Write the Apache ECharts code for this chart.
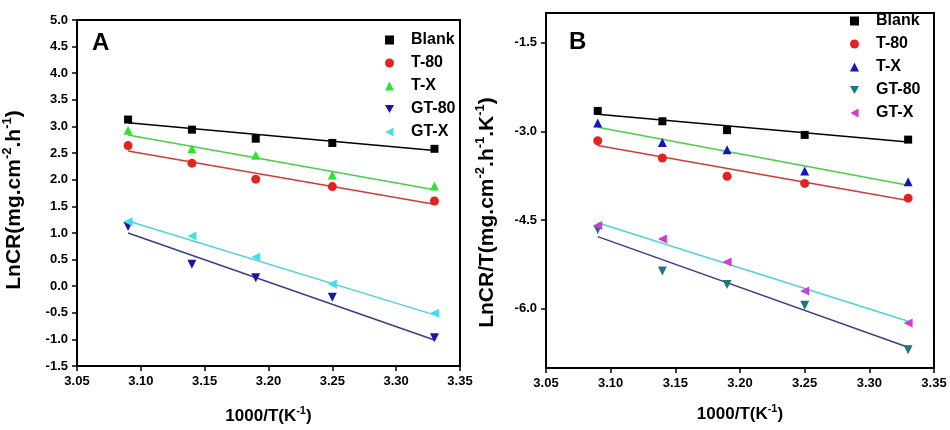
<!DOCTYPE html>
<html>
<head>
<meta charset="utf-8">
<script src="https://cdn.jsdelivr.net/npm/echarts@6/dist/echarts.min.js"></script>
<style>html,body{margin:0;padding:0;background:#fff}#c{width:950px;height:430px}</style>
</head>
<body>
<div id="c"></div>
<script>
// ---- data ----
const xVals = [3.09, 3.14, 3.19, 3.25, 3.33];
const fitX = [3.09, 3.33];
const legendNames = ['Blank', 'T-80', 'T-X', 'GT-80', 'GT-X'];
const xTicks = [3.05, 3.10, 3.15, 3.20, 3.25, 3.30, 3.35];
const yTicksA = [-1.5, -1.0, -0.5, 0.0, 0.5, 1.0, 1.5, 2.0, 2.5, 3.0, 3.5, 4.0, 4.5, 5.0];
const yTicksB = [-1.5, -3.0, -4.5, -6.0];

// Panel A: LnCR
const blankA = [3.13, 2.94, 2.77, 2.69, 2.58];
const t80A   = [2.64, 2.31, 2.01, 1.87, 1.60];
const tXA    = [2.93, 2.58, 2.46, 2.09, 1.88];
const gt80A  = [1.12, 0.41, 0.16, -0.21, -0.97];
const gtXA   = [1.21, 0.94, 0.55, 0.04, -0.51];
// fitted line end values (at fitX)
const blankFitA = [3.07, 2.55];
const t80FitA   = [2.54, 1.54];
const tXFitA    = [2.84, 1.81];
const gt80FitA  = [1.00, -1.01];
const gtXFitA   = [1.225, -0.54];

// Panel B: LnCR/T
const blankB = [-2.655, -2.83, -2.98, -3.06, -3.14];
const t80B   = [-3.16, -3.45, -3.76, -3.88, -4.13];
const tXB    = [-2.86, -3.19, -3.31, -3.67, -3.85];
const gt80B  = [-4.66, -5.36, -5.59, -5.94, -6.69];
const gtXB   = [-4.59, -4.82, -5.21, -5.70, -6.24];
const blankFitB = [-2.71, -3.18];
const t80FitB   = [-3.24, -4.17];
const tXFitB    = [-2.93, -3.91];
const gt80FitB  = [-4.78, -6.65];
const gtXFitB   = [-4.545, -6.21];

// ---- styles ----
const FONT = '"Liberation Sans", Arial, sans-serif';
const symDown = 'path://M0,0L10,0L5,9Z';
const symLeft = 'path://M0,5L9,0L9,10Z';
const symbols = ['rect', 'circle', 'triangle', symDown, symLeft];
const symSizes = [8, 9, 9, 9, 9];
const markColorsA = ['#000000', '#e32222', '#2fe22f', '#1717a3', '#3fe0ee'];
const markColorsB = ['#000000', '#e32222', '#1515b8', '#1d7878', '#d23ad2'];
const fitColors = ['#000000', '#d23a3a', '#45d045', '#3d3d8a', '#4fd4d4'];

const zip = (xs, ys) => xs.map((x, i) => [x, ys[i]]);

function panelSeries(prefix, gi, pts, fits, colors) {
  const out = [];
  for (let k = 0; k < 5; k++) {
    out.push({
      type: 'line', name: prefix + 'fit' + k, xAxisIndex: gi, yAxisIndex: gi,
      data: zip(fitX, fits[k]), showSymbol: false, silent: true, z: 2,
      lineStyle: { color: fitColors[k], width: 1.5 }
    });
  }
  for (let k = 0; k < 5; k++) {
    out.push({
      type: 'scatter', name: prefix + legendNames[k], xAxisIndex: gi, yAxisIndex: gi,
      data: zip(xVals, pts[k]), symbol: symbols[k], symbolSize: symSizes[k], z: 5,
      itemStyle: { color: colors[k], opacity: 1 }
    });
  }
  return out;
}

function xAxisCfg(gi, gap) {
  return {
    type: 'value', gridIndex: gi, min: xTicks[0], max: xTicks[xTicks.length - 1], interval: 0.05,
    name: '{n|1000/T(K}{s|-1}{n|)}', nameLocation: 'middle', nameGap: gap,
    nameTextStyle: { rich: {
      n: { fontSize: 17, fontWeight: 'bold', fontFamily: FONT, color: '#000', lineHeight: 22 },
      s: { fontSize: 11, fontWeight: 'bold', fontFamily: FONT, color: '#000', verticalAlign: 'top', lineHeight: 11 }
    } },
    axisLine: { onZero: false, lineStyle: { color: '#000', width: 2 } },
    axisTick: { inside: false, length: 5, lineStyle: { color: '#000', width: 1.5 } },
    axisLabel: { color: '#000', fontSize: 13, fontWeight: 'bold', fontFamily: FONT, margin: 9,
      formatter: v => v.toFixed(2) },
    splitLine: { show: false }
  };
}

const richY = {
  n: { fontSize: 21, fontWeight: 'bold', fontFamily: FONT, color: '#000', lineHeight: 26 },
  s: { fontSize: 13, fontWeight: 'bold', fontFamily: FONT, color: '#000', verticalAlign: 'top', lineHeight: 13 }
};

function legendCfg(prefix, left, top) {
  return {
    orient: 'vertical', left: left, top: top, itemWidth: 9, itemHeight: 9, itemGap: 7,
    data: legendNames.map((n, k) => ({ name: prefix + n, icon: symbols[k] })),
    formatter: name => name.slice(prefix.length),
    textStyle: { color: '#000', fontSize: 16, fontWeight: 'bold', fontFamily: FONT, lineHeight: 16, padding: [0, 0, 0, 12] },
    selectedMode: false
  };
}

const option = {
  animation: false,
  backgroundColor: '#ffffff',
  grid: [
    { left: 72, right: 490, top: 20, bottom: 64, show: true, borderColor: '#000', borderWidth: 2, backgroundColor: 'transparent' },
    { left: 546, right: 16, top: 13, bottom: 62, show: true, borderColor: '#000', borderWidth: 2, backgroundColor: 'transparent' }
  ],
  xAxis: [xAxisCfg(0, 39), xAxisCfg(1, 35)],
  yAxis: [
    {
      type: 'value', gridIndex: 0, min: yTicksA[0], max: yTicksA[yTicksA.length - 1], interval: 0.5,
      name: '{n|LnCR(mg.cm}{s|-2}{n|.h}{s|-1}{n|)}', nameLocation: 'middle', nameGap: 50,
      nameTextStyle: { rich: richY, padding: [0, 14, 0, 0] },
      axisLine: { onZero: false, lineStyle: { color: '#000', width: 2 } },
      axisTick: { inside: false, length: 5, lineStyle: { color: '#000', width: 1.5 } },
      axisLabel: { color: '#000', fontSize: 13, fontWeight: 'bold', fontFamily: FONT, margin: 9,
        formatter: v => v.toFixed(1) },
      splitLine: { show: false }
    },
    {
      type: 'value', gridIndex: 1, min: -7, max: -1,
      name: '{n|LnCR/T(mg.cm}{s|-2}{n|.h}{s|-1}{n|.K}{s|-1}{n|)}', nameLocation: 'middle', nameGap: 46,
      nameTextStyle: { rich: richY, padding: [0, 44, 0, 0] },
      axisLine: { onZero: false, lineStyle: { color: '#000', width: 2 } },
      axisTick: { inside: false, length: 5, customValues: yTicksB, lineStyle: { color: '#000', width: 1.5 } },
      axisLabel: { color: '#000', fontSize: 13, fontWeight: 'bold', fontFamily: FONT, margin: 9,
        customValues: yTicksB, formatter: v => v.toFixed(1) },
      splitLine: { show: false }
    }
  ],
  legend: [legendCfg('A:', 380, 27), legendCfg('B:', 845, 8)],
  graphic: [
    { type: 'text', left: 92, top: 31, z: 10, style: { text: 'A', font: 'bold 24px ' + FONT, fill: '#000' } },
    { type: 'text', left: 569, top: 30, z: 10, style: { text: 'B', font: 'bold 24px ' + FONT, fill: '#000' } }
  ],
  series: [].concat(
    panelSeries('A:', 0, [blankA, t80A, tXA, gt80A, gtXA], [blankFitA, t80FitA, tXFitA, gt80FitA, gtXFitA], markColorsA),
    panelSeries('B:', 1, [blankB, t80B, tXB, gt80B, gtXB], [blankFitB, t80FitB, tXFitB, gt80FitB, gtXFitB], markColorsB)
  )
};

const chart = echarts.init(document.getElementById('c'), null, { renderer: 'canvas' });
chart.setOption(option);
</script>
</body>
</html>
